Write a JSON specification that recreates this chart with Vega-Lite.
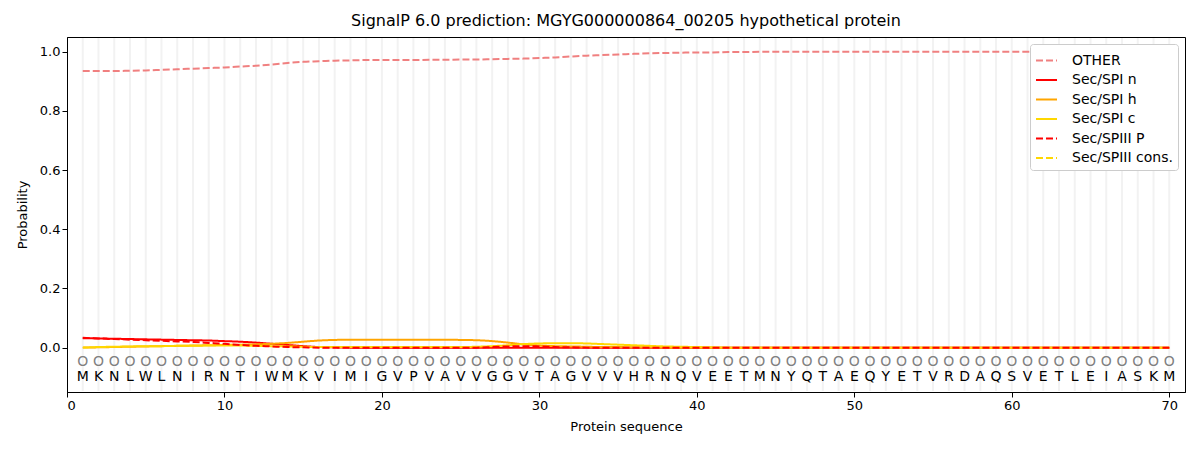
{
  "$schema": "https://vega.github.io/schema/vega-lite/v6.json",
  "autosize": {"type": "none"},
  "width": 1118,
  "height": 355,
  "padding": {"left": 67, "top": 37, "right": 15, "bottom": 58},
  "background": "white",
  "title": {
    "text": "SignalP 6.0 prediction: MGYG000000864_00205 hypothetical protein",
    "fontSize": 16,
    "fontWeight": "normal",
    "font": "DejaVu Sans",
    "color": "black",
    "offset": 8
  },
  "data": {
    "values": [
      {"pos": 1, "aa": "M", "OTHER": 0.935, "Sec/SPI n": 0.032, "Sec/SPI h": 0, "Sec/SPI c": 0, "Sec/SPIII P": 0.033, "Sec/SPIII cons.": 0},
      {"pos": 2, "aa": "K", "OTHER": 0.935, "Sec/SPI n": 0.031, "Sec/SPI h": 0.001, "Sec/SPI c": 0.002, "Sec/SPIII P": 0.031, "Sec/SPIII cons.": 0},
      {"pos": 3, "aa": "N", "OTHER": 0.935, "Sec/SPI n": 0.030, "Sec/SPI h": 0.002, "Sec/SPI c": 0.003, "Sec/SPIII P": 0.029, "Sec/SPIII cons.": 0},
      {"pos": 4, "aa": "L", "OTHER": 0.936, "Sec/SPI n": 0.029, "Sec/SPI h": 0.003, "Sec/SPI c": 0.004, "Sec/SPIII P": 0.027, "Sec/SPIII cons.": 0},
      {"pos": 5, "aa": "W", "OTHER": 0.937, "Sec/SPI n": 0.028, "Sec/SPI h": 0.004, "Sec/SPI c": 0.005, "Sec/SPIII P": 0.025, "Sec/SPIII cons.": 0},
      {"pos": 6, "aa": "L", "OTHER": 0.939, "Sec/SPI n": 0.027, "Sec/SPI h": 0.005, "Sec/SPI c": 0.005, "Sec/SPIII P": 0.023, "Sec/SPIII cons.": 0},
      {"pos": 7, "aa": "N", "OTHER": 0.941, "Sec/SPI n": 0.026, "Sec/SPI h": 0.006, "Sec/SPI c": 0.006, "Sec/SPIII P": 0.021, "Sec/SPIII cons.": 0},
      {"pos": 8, "aa": "I", "OTHER": 0.943, "Sec/SPI n": 0.025, "Sec/SPI h": 0.007, "Sec/SPI c": 0.006, "Sec/SPIII P": 0.019, "Sec/SPIII cons.": 0},
      {"pos": 9, "aa": "R", "OTHER": 0.945, "Sec/SPI n": 0.024, "Sec/SPI h": 0.008, "Sec/SPI c": 0.007, "Sec/SPIII P": 0.016, "Sec/SPIII cons.": 0},
      {"pos": 10, "aa": "N", "OTHER": 0.947, "Sec/SPI n": 0.022, "Sec/SPI h": 0.009, "Sec/SPI c": 0.007, "Sec/SPIII P": 0.013, "Sec/SPIII cons.": 0},
      {"pos": 11, "aa": "T", "OTHER": 0.950, "Sec/SPI n": 0.020, "Sec/SPI h": 0.010, "Sec/SPI c": 0.007, "Sec/SPIII P": 0.009, "Sec/SPIII cons.": 0},
      {"pos": 12, "aa": "I", "OTHER": 0.953, "Sec/SPI n": 0.017, "Sec/SPI h": 0.011, "Sec/SPI c": 0.006, "Sec/SPIII P": 0.006, "Sec/SPIII cons.": 0},
      {"pos": 13, "aa": "W", "OTHER": 0.957, "Sec/SPI n": 0.013, "Sec/SPI h": 0.013, "Sec/SPI c": 0.005, "Sec/SPIII P": 0.004, "Sec/SPIII cons.": 0},
      {"pos": 14, "aa": "M", "OTHER": 0.962, "Sec/SPI n": 0.009, "Sec/SPI h": 0.016, "Sec/SPI c": 0.004, "Sec/SPIII P": 0.002, "Sec/SPIII cons.": 0},
      {"pos": 15, "aa": "K", "OTHER": 0.966, "Sec/SPI n": 0.005, "Sec/SPI h": 0.020, "Sec/SPI c": 0.003, "Sec/SPIII P": 0.001, "Sec/SPIII cons.": 0},
      {"pos": 16, "aa": "V", "OTHER": 0.968, "Sec/SPI n": 0.002, "Sec/SPI h": 0.024, "Sec/SPI c": 0.002, "Sec/SPIII P": 0, "Sec/SPIII cons.": 0},
      {"pos": 17, "aa": "I", "OTHER": 0.970, "Sec/SPI n": 0.001, "Sec/SPI h": 0.026, "Sec/SPI c": 0.002, "Sec/SPIII P": 0, "Sec/SPIII cons.": 0},
      {"pos": 18, "aa": "M", "OTHER": 0.971, "Sec/SPI n": 0, "Sec/SPI h": 0.027, "Sec/SPI c": 0.002, "Sec/SPIII P": 0, "Sec/SPIII cons.": 0},
      {"pos": 19, "aa": "I", "OTHER": 0.972, "Sec/SPI n": 0, "Sec/SPI h": 0.027, "Sec/SPI c": 0.002, "Sec/SPIII P": 0, "Sec/SPIII cons.": 0},
      {"pos": 20, "aa": "G", "OTHER": 0.972, "Sec/SPI n": 0, "Sec/SPI h": 0.027, "Sec/SPI c": 0.002, "Sec/SPIII P": 0, "Sec/SPIII cons.": 0},
      {"pos": 21, "aa": "V", "OTHER": 0.972, "Sec/SPI n": 0, "Sec/SPI h": 0.027, "Sec/SPI c": 0.002, "Sec/SPIII P": 0, "Sec/SPIII cons.": 0},
      {"pos": 22, "aa": "P", "OTHER": 0.972, "Sec/SPI n": 0, "Sec/SPI h": 0.027, "Sec/SPI c": 0.002, "Sec/SPIII P": 0, "Sec/SPIII cons.": 0},
      {"pos": 23, "aa": "V", "OTHER": 0.973, "Sec/SPI n": 0, "Sec/SPI h": 0.027, "Sec/SPI c": 0.002, "Sec/SPIII P": 0, "Sec/SPIII cons.": 0},
      {"pos": 24, "aa": "A", "OTHER": 0.973, "Sec/SPI n": 0, "Sec/SPI h": 0.027, "Sec/SPI c": 0.002, "Sec/SPIII P": 0, "Sec/SPIII cons.": 0},
      {"pos": 25, "aa": "V", "OTHER": 0.974, "Sec/SPI n": 0, "Sec/SPI h": 0.026, "Sec/SPI c": 0.002, "Sec/SPIII P": 0, "Sec/SPIII cons.": 0},
      {"pos": 26, "aa": "V", "OTHER": 0.974, "Sec/SPI n": 0, "Sec/SPI h": 0.025, "Sec/SPI c": 0.003, "Sec/SPIII P": 0, "Sec/SPIII cons.": 0},
      {"pos": 27, "aa": "G", "OTHER": 0.975, "Sec/SPI n": 0, "Sec/SPI h": 0.022, "Sec/SPI c": 0.005, "Sec/SPIII P": 0.002, "Sec/SPIII cons.": 0},
      {"pos": 28, "aa": "G", "OTHER": 0.976, "Sec/SPI n": 0, "Sec/SPI h": 0.017, "Sec/SPI c": 0.008, "Sec/SPIII P": 0.004, "Sec/SPIII cons.": 0},
      {"pos": 29, "aa": "V", "OTHER": 0.977, "Sec/SPI n": 0, "Sec/SPI h": 0.011, "Sec/SPI c": 0.012, "Sec/SPIII P": 0.005, "Sec/SPIII cons.": 0},
      {"pos": 30, "aa": "T", "OTHER": 0.979, "Sec/SPI n": 0, "Sec/SPI h": 0.007, "Sec/SPI c": 0.014, "Sec/SPIII P": 0.004, "Sec/SPIII cons.": 0},
      {"pos": 31, "aa": "A", "OTHER": 0.981, "Sec/SPI n": 0, "Sec/SPI h": 0.005, "Sec/SPI c": 0.015, "Sec/SPIII P": 0.002, "Sec/SPIII cons.": 0},
      {"pos": 32, "aa": "G", "OTHER": 0.984, "Sec/SPI n": 0, "Sec/SPI h": 0.004, "Sec/SPI c": 0.015, "Sec/SPIII P": 0.001, "Sec/SPIII cons.": 0},
      {"pos": 33, "aa": "V", "OTHER": 0.987, "Sec/SPI n": 0, "Sec/SPI h": 0.003, "Sec/SPI c": 0.014, "Sec/SPIII P": 0, "Sec/SPIII cons.": 0},
      {"pos": 34, "aa": "V", "OTHER": 0.989, "Sec/SPI n": 0, "Sec/SPI h": 0.002, "Sec/SPI c": 0.012, "Sec/SPIII P": 0, "Sec/SPIII cons.": 0},
      {"pos": 35, "aa": "V", "OTHER": 0.991, "Sec/SPI n": 0, "Sec/SPI h": 0.002, "Sec/SPI c": 0.010, "Sec/SPIII P": 0, "Sec/SPIII cons.": 0},
      {"pos": 36, "aa": "H", "OTHER": 0.993, "Sec/SPI n": 0, "Sec/SPI h": 0.001, "Sec/SPI c": 0.008, "Sec/SPIII P": 0, "Sec/SPIII cons.": 0},
      {"pos": 37, "aa": "R", "OTHER": 0.995, "Sec/SPI n": 0, "Sec/SPI h": 0.001, "Sec/SPI c": 0.006, "Sec/SPIII P": 0, "Sec/SPIII cons.": 0},
      {"pos": 38, "aa": "N", "OTHER": 0.996, "Sec/SPI n": 0, "Sec/SPI h": 0, "Sec/SPI c": 0.004, "Sec/SPIII P": 0, "Sec/SPIII cons.": 0},
      {"pos": 39, "aa": "Q", "OTHER": 0.997, "Sec/SPI n": 0, "Sec/SPI h": 0, "Sec/SPI c": 0.003, "Sec/SPIII P": 0, "Sec/SPIII cons.": 0},
      {"pos": 40, "aa": "V", "OTHER": 0.998, "Sec/SPI n": 0, "Sec/SPI h": 0, "Sec/SPI c": 0.002, "Sec/SPIII P": 0, "Sec/SPIII cons.": 0},
      {"pos": 41, "aa": "E", "OTHER": 0.998, "Sec/SPI n": 0, "Sec/SPI h": 0, "Sec/SPI c": 0.001, "Sec/SPIII P": 0, "Sec/SPIII cons.": 0},
      {"pos": 42, "aa": "E", "OTHER": 0.999, "Sec/SPI n": 0, "Sec/SPI h": 0, "Sec/SPI c": 0, "Sec/SPIII P": 0, "Sec/SPIII cons.": 0},
      {"pos": 43, "aa": "T", "OTHER": 0.999, "Sec/SPI n": 0, "Sec/SPI h": 0, "Sec/SPI c": 0, "Sec/SPIII P": 0, "Sec/SPIII cons.": 0},
      {"pos": 44, "aa": "M", "OTHER": 1.0, "Sec/SPI n": 0, "Sec/SPI h": 0, "Sec/SPI c": 0, "Sec/SPIII P": 0, "Sec/SPIII cons.": 0},
      {"pos": 45, "aa": "N", "OTHER": 1.0, "Sec/SPI n": 0, "Sec/SPI h": 0, "Sec/SPI c": 0, "Sec/SPIII P": 0, "Sec/SPIII cons.": 0},
      {"pos": 46, "aa": "Y", "OTHER": 1.0, "Sec/SPI n": 0, "Sec/SPI h": 0, "Sec/SPI c": 0, "Sec/SPIII P": 0, "Sec/SPIII cons.": 0},
      {"pos": 47, "aa": "Q", "OTHER": 1.0, "Sec/SPI n": 0, "Sec/SPI h": 0, "Sec/SPI c": 0, "Sec/SPIII P": 0, "Sec/SPIII cons.": 0},
      {"pos": 48, "aa": "T", "OTHER": 1.0, "Sec/SPI n": 0, "Sec/SPI h": 0, "Sec/SPI c": 0, "Sec/SPIII P": 0, "Sec/SPIII cons.": 0},
      {"pos": 49, "aa": "A", "OTHER": 1.0, "Sec/SPI n": 0, "Sec/SPI h": 0, "Sec/SPI c": 0, "Sec/SPIII P": 0, "Sec/SPIII cons.": 0},
      {"pos": 50, "aa": "E", "OTHER": 1.0, "Sec/SPI n": 0, "Sec/SPI h": 0, "Sec/SPI c": 0, "Sec/SPIII P": 0, "Sec/SPIII cons.": 0},
      {"pos": 51, "aa": "Q", "OTHER": 1.0, "Sec/SPI n": 0, "Sec/SPI h": 0, "Sec/SPI c": 0, "Sec/SPIII P": 0, "Sec/SPIII cons.": 0},
      {"pos": 52, "aa": "Y", "OTHER": 1.0, "Sec/SPI n": 0, "Sec/SPI h": 0, "Sec/SPI c": 0, "Sec/SPIII P": 0, "Sec/SPIII cons.": 0},
      {"pos": 53, "aa": "E", "OTHER": 1.0, "Sec/SPI n": 0, "Sec/SPI h": 0, "Sec/SPI c": 0, "Sec/SPIII P": 0, "Sec/SPIII cons.": 0},
      {"pos": 54, "aa": "T", "OTHER": 1.0, "Sec/SPI n": 0, "Sec/SPI h": 0, "Sec/SPI c": 0, "Sec/SPIII P": 0, "Sec/SPIII cons.": 0},
      {"pos": 55, "aa": "V", "OTHER": 1.0, "Sec/SPI n": 0, "Sec/SPI h": 0, "Sec/SPI c": 0, "Sec/SPIII P": 0, "Sec/SPIII cons.": 0},
      {"pos": 56, "aa": "R", "OTHER": 1.0, "Sec/SPI n": 0, "Sec/SPI h": 0, "Sec/SPI c": 0, "Sec/SPIII P": 0, "Sec/SPIII cons.": 0},
      {"pos": 57, "aa": "D", "OTHER": 1.0, "Sec/SPI n": 0, "Sec/SPI h": 0, "Sec/SPI c": 0, "Sec/SPIII P": 0, "Sec/SPIII cons.": 0},
      {"pos": 58, "aa": "A", "OTHER": 1.0, "Sec/SPI n": 0, "Sec/SPI h": 0, "Sec/SPI c": 0, "Sec/SPIII P": 0, "Sec/SPIII cons.": 0},
      {"pos": 59, "aa": "Q", "OTHER": 1.0, "Sec/SPI n": 0, "Sec/SPI h": 0, "Sec/SPI c": 0, "Sec/SPIII P": 0, "Sec/SPIII cons.": 0},
      {"pos": 60, "aa": "S", "OTHER": 1.0, "Sec/SPI n": 0, "Sec/SPI h": 0, "Sec/SPI c": 0, "Sec/SPIII P": 0, "Sec/SPIII cons.": 0},
      {"pos": 61, "aa": "V", "OTHER": 1.0, "Sec/SPI n": 0, "Sec/SPI h": 0, "Sec/SPI c": 0, "Sec/SPIII P": 0, "Sec/SPIII cons.": 0},
      {"pos": 62, "aa": "E", "OTHER": 1.0, "Sec/SPI n": 0, "Sec/SPI h": 0, "Sec/SPI c": 0, "Sec/SPIII P": 0, "Sec/SPIII cons.": 0},
      {"pos": 63, "aa": "T", "OTHER": 1.0, "Sec/SPI n": 0, "Sec/SPI h": 0, "Sec/SPI c": 0, "Sec/SPIII P": 0, "Sec/SPIII cons.": 0},
      {"pos": 64, "aa": "L", "OTHER": 1.0, "Sec/SPI n": 0, "Sec/SPI h": 0, "Sec/SPI c": 0, "Sec/SPIII P": 0, "Sec/SPIII cons.": 0},
      {"pos": 65, "aa": "E", "OTHER": 1.0, "Sec/SPI n": 0, "Sec/SPI h": 0, "Sec/SPI c": 0, "Sec/SPIII P": 0, "Sec/SPIII cons.": 0},
      {"pos": 66, "aa": "I", "OTHER": 1.0, "Sec/SPI n": 0, "Sec/SPI h": 0, "Sec/SPI c": 0, "Sec/SPIII P": 0, "Sec/SPIII cons.": 0},
      {"pos": 67, "aa": "A", "OTHER": 1.0, "Sec/SPI n": 0, "Sec/SPI h": 0, "Sec/SPI c": 0, "Sec/SPIII P": 0, "Sec/SPIII cons.": 0},
      {"pos": 68, "aa": "S", "OTHER": 1.0, "Sec/SPI n": 0, "Sec/SPI h": 0, "Sec/SPI c": 0, "Sec/SPIII P": 0, "Sec/SPIII cons.": 0},
      {"pos": 69, "aa": "K", "OTHER": 1.0, "Sec/SPI n": 0, "Sec/SPI h": 0, "Sec/SPI c": 0, "Sec/SPIII P": 0, "Sec/SPIII cons.": 0},
      {"pos": 70, "aa": "M", "OTHER": 1.0, "Sec/SPI n": 0, "Sec/SPI h": 0, "Sec/SPI c": 0, "Sec/SPIII P": 0, "Sec/SPIII cons.": 0}
    ]
  },
  "encoding": {
    "x": {
      "field": "pos",
      "type": "quantitative",
      "scale": {"domain": [0, 71], "nice": false, "zero": false},
      "axis": {"values": [0, 10, 20, 30, 40, 50, 60, 70], "title": "Protein sequence", "grid": false}
    }
  },
  "layer": [
    {
      "mark": {"type": "rule", "color": "#f2f2f2", "strokeWidth": 2},
      "encoding": {
        "y": {"datum": -0.147, "type": "quantitative", "scale": {"domain": [-0.15, 1.05], "nice": false, "zero": false}},
        "y2": {"datum": 1.047}
      }
    },
    {
      "transform": [
        {"fold": ["OTHER", "Sec/SPI n", "Sec/SPI h", "Sec/SPI c", "Sec/SPIII P", "Sec/SPIII cons."], "as": ["series", "prob"]}
      ],
      "mark": {"type": "line", "strokeWidth": 2, "interpolate": "monotone"},
      "encoding": {
        "y": {
          "field": "prob",
          "type": "quantitative",
          "scale": {"domain": [-0.15, 1.05], "nice": false, "zero": false},
          "axis": {"values": [0, 0.2, 0.4, 0.6, 0.8, 1.0], "format": ".1f", "title": "Probability", "grid": false}
        },
        "color": {
          "field": "series",
          "type": "nominal",
          "scale": {
            "domain": ["OTHER", "Sec/SPI n", "Sec/SPI h", "Sec/SPI c", "Sec/SPIII P", "Sec/SPIII cons."],
            "range": ["#f08080", "#ff0000", "#ffa500", "#ffd700", "#ff0000", "#ffd700"]
          },
          "legend": {"title": null}
        },
        "strokeDash": {
          "field": "series",
          "type": "nominal",
          "scale": {
            "domain": ["OTHER", "Sec/SPI n", "Sec/SPI h", "Sec/SPI c", "Sec/SPIII P", "Sec/SPIII cons."],
            "range": [[7, 3], [1, 0], [1, 0], [1, 0], [7, 3], [7, 3]]
          },
          "legend": {"title": null}
        }
      }
    },
    {
      "mark": {"type": "text", "fontSize": 14, "font": "DejaVu Sans", "color": "#808080", "baseline": "middle"},
      "encoding": {
        "y": {"datum": -0.047, "type": "quantitative"},
        "text": {"value": "O"}
      }
    },
    {
      "mark": {"type": "text", "fontSize": 14, "font": "DejaVu Sans", "color": "black", "baseline": "middle"},
      "encoding": {
        "y": {"datum": -0.1, "type": "quantitative"},
        "text": {"field": "aa"}
      }
    }
  ],
  "config": {
    "font": "DejaVu Sans",
    "view": {"stroke": "black", "strokeWidth": 1},
    "axis": {
      "domainColor": "black",
      "tickColor": "black",
      "tickSize": 5,
      "labelFontSize": 13,
      "labelColor": "black",
      "titleFontSize": 13,
      "titleFontWeight": "normal",
      "titleColor": "black",
      "labelFont": "DejaVu Sans",
      "titleFont": "DejaVu Sans"
    },
    "axisY": {"titlePadding": 10},
    "axisX": {"titlePadding": 8},
    "legend": {
      "orient": "top-right",
      "offset": 7,
      "fillColor": "white",
      "strokeColor": "#cccccc",
      "cornerRadius": 3,
      "padding": 5,
      "labelFontSize": 14,
      "labelFont": "DejaVu Sans",
      "labelColor": "black",
      "symbolType": "stroke",
      "symbolSize": 441,
      "symbolStrokeWidth": 2,
      "rowPadding": 0.5,
      "labelOffset": 14
    }
  }
}
